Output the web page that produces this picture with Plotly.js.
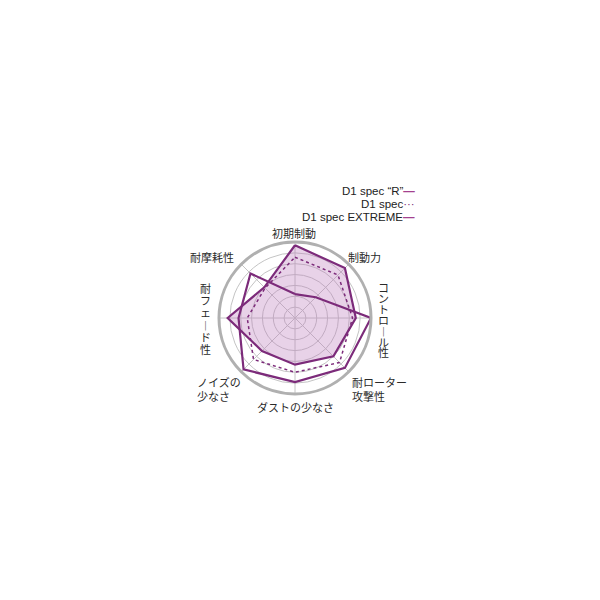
<!DOCTYPE html>
<html>
<head>
<meta charset="utf-8">
<script src="https://cdn.plot.ly/plotly-3.0.1.min.js"></script>
<style>
  html, body { margin: 0; padding: 0; background: #fff; }
  #chart { width: 600px; height: 600px; }
</style>
</head>
<body>
<div id="chart"></div>
<script>
// axes, clockwise from the top
var categories = ['初期制動', '制動力', 'コントロール性', '耐ローター攻撃性', 'ダストの少なさ', 'ノイズの少なさ', '耐フェード性', '耐摩耗性'];
var labelText = ['初期制動', '制動力', 'コントロール性', '耐ローター<br>攻撃性', 'ダストの少なさ', 'ノイズの<br>少なさ', '耐フェード性', '耐摩耗性'];

var seriesNames = ['D1 spec “R”', 'D1 spec', 'D1 spec EXTREME'];
var specR   = [6.7, 6.5, 5.6, 5.0, 4.3, 4.3, 6.2, 4.0];
var spec    = [5.6, 5.6, 5.3, 5.8, 5.0, 5.4, 4.4, 3.9];
var extreme = [2.2, 2.7, 7.0, 6.5, 5.9, 6.7, 5.2, 5.8];

var lineCol = '#7c2b7a';

function closed(a) { return a.concat([a[0]]); }

var trace1 = {
  type: 'scatterpolar',
  theta: closed(categories),
  r: closed(specR),
  name: seriesNames[0],
  mode: 'lines',
  fill: 'toself',
  fillcolor: 'rgba(190,125,190,0.35)',
  line: { color: lineCol, width: 2.2 }
};
var trace2 = {
  type: 'scatterpolar',
  theta: closed(categories),
  r: closed(spec),
  name: seriesNames[1],
  mode: 'lines',
  line: { color: lineCol, width: 1.5, dash: 'dot' }
};
var trace3 = {
  type: 'scatterpolar',
  theta: closed(categories),
  r: closed(extreme),
  name: seriesNames[2],
  mode: 'lines',
  line: { color: lineCol, width: 2.2 }
};

// label placement (pixels in the 600x600 page)
var W = 600;
function px(x) { return x / W; }
function py(y) { return 1 - y / W; }
var labelPos = [
  { x: 294, y: 233, anchor: 'center' },
  { x: 364, y: 257, anchor: 'center' },
  { x: 383, y: 287, vertical: true, step: 10.9 },
  { x: 350, y: 389, anchor: 'left' },
  { x: 295, y: 407, anchor: 'center' },
  { x: 195, y: 389, anchor: 'left' },
  { x: 205, y: 288, vertical: true, step: 12.2 },
  { x: 212, y: 257, anchor: 'center' }
];

var labFont = { family: '"Noto Sans CJK JP", sans-serif', size: 11, color: '#2a2a2a' };
var annotations = [];
labelText.forEach(function (t, i) {
  var p = labelPos[i];
  if (p.vertical) {
    // tategaki, stacked one character at a time as tight as the original
    Array.from(t).forEach(function (ch, k) {
      annotations.push({
        xref: 'paper', yref: 'paper', showarrow: false,
        x: px(p.x), y: py(p.y + k * p.step),
        text: ch === 'ー' ? '︱' : ch,
        font: labFont, xanchor: 'center', yanchor: 'middle'
      });
    });
  } else {
    annotations.push({
      xref: 'paper', yref: 'paper', showarrow: false,
      x: px(p.x), y: py(p.y),
      text: t, font: labFont, align: p.anchor,
      xanchor: p.anchor, yanchor: 'middle'
    });
  }
});

// legend, text on the left of its mark
var legMarks = ['<b>—</b>', '···', '<b>—</b>'];
var legCols = ['#a4418f', '#7c2b7a', '#a4418f'];
seriesNames.forEach(function (n, i) {
  annotations.push({
    xref: 'paper', yref: 'paper', showarrow: false,
    x: px(416), y: py(191 + i * 12.8),
    xanchor: 'right', yanchor: 'middle', borderpad: 0,
    text: n + '<span style="color:' + legCols[i] + '">' + legMarks[i] + '</span>',
    font: { family: '"Liberation Sans", Arial, sans-serif', size: 11.5, color: '#222' }
  });
});

var layout = {
  width: 600,
  height: 600,
  margin: { l: 0, r: 0, t: 0, b: 0 },
  paper_bgcolor: '#fff',
  showlegend: false,
  polar: {
    domain: { x: [px(219), px(371)], y: [py(394), py(242)] },
    bgcolor: '#fff',
    radialaxis: {
      range: [0, 7],
      dtick: 1,
      showticklabels: false,
      ticks: '',
      showline: false,
      gridcolor: '#c4c4c4',
      gridwidth: 1
    },
    angularaxis: {
      direction: 'clockwise',
      rotation: 90,
      showticklabels: false,
      ticks: '',
      linecolor: '#b0b0b0',
      linewidth: 3,
      gridcolor: '#c4c4c4',
      gridwidth: 1
    }
  },
  annotations: annotations
};

Plotly.newPlot('chart', [trace1, trace2, trace3], layout, { displayModeBar: false });
</script>
</body>
</html>
